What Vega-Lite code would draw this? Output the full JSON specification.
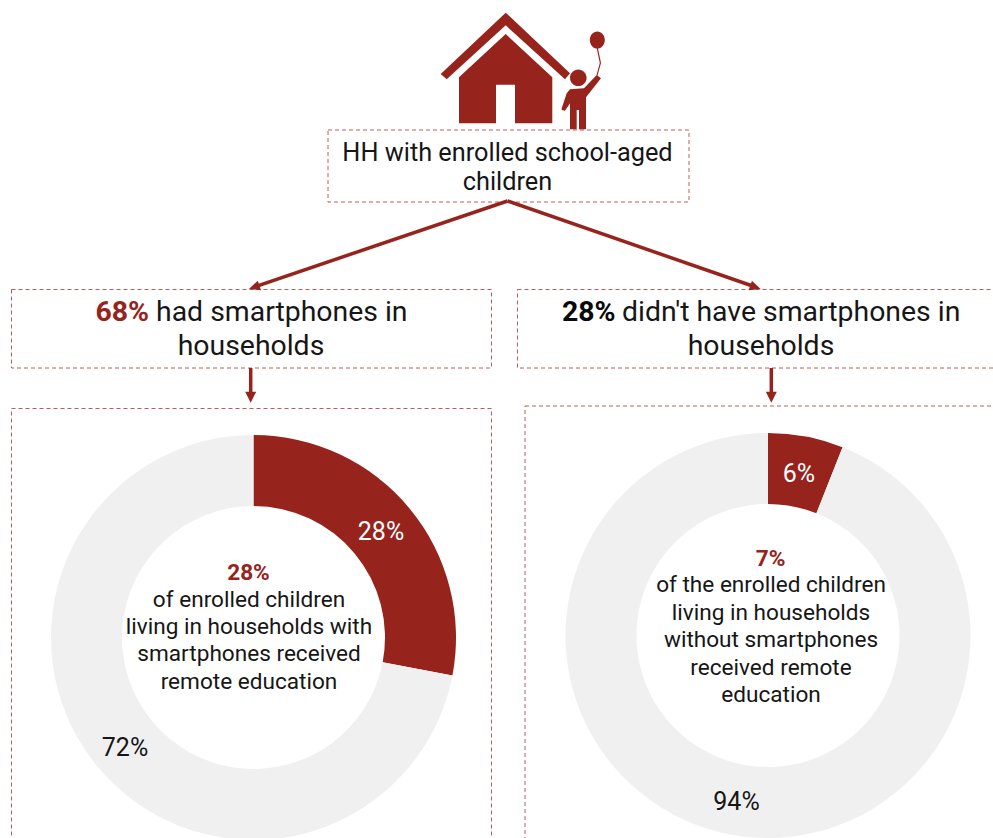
{
  "$schema": "https://vega.github.io/schema/vega-lite/v6.json",
  "width": 993,
  "height": 838,
  "padding": 0,
  "autosize": {"type": "none"},
  "background": "white",
  "config": {
    "view": {"stroke": null},
    "axis": {"disable": true},
    "legend": {"disable": true},
    "text": {"font": "Roboto", "color": "#161616", "baseline": "middle"}
  },
  "datasets": {
    "withPhone": [
      {"slice": "remote", "seq": 1, "share": 28, "label": "28%"},
      {"slice": "none", "seq": 2, "share": 72, "label": "72%"}
    ],
    "withoutPhone": [
      {"slice": "remote", "seq": 1, "share": 6, "label": "6%"},
      {"slice": "none", "seq": 2, "share": 94, "label": "94%"}
    ]
  },
  "layer": [
    {
      "data": {"name": "withPhone"},
      "mark": {"type": "arc", "radius": 202.5, "radius2": 131.5},
      "encoding": {
        "x": {"datum": 253.5, "type": "quantitative", "scale": {"domain": [0, 993], "nice": false, "zero": false}},
        "y": {"datum": 637.5, "type": "quantitative", "scale": {"domain": [838, 0], "nice": false, "zero": false}},
        "theta": {"field": "share", "type": "quantitative", "stack": true, "scale": {"domain": [0, 100]}},
        "order": {"field": "seq"},
        "color": {"field": "slice", "type": "nominal", "scale": {"domain": ["remote", "none"], "range": ["#96231c", "#f0f0f0"]}}
      }
    },
    {
      "data": {"name": "withoutPhone"},
      "mark": {"type": "arc", "radius": 202.5, "radius2": 131.5},
      "encoding": {
        "x": {"datum": 768, "type": "quantitative"},
        "y": {"datum": 635.5, "type": "quantitative"},
        "theta": {"field": "share", "type": "quantitative", "stack": true},
        "order": {"field": "seq"},
        "color": {"field": "slice", "type": "nominal"}
      }
    },
    {
      "data": {"values": [{"box": "households with school-aged children"}]},
      "mark": {"type": "rect", "fill": null, "stroke": "#b5403a", "strokeWidth": 1, "strokeDash": [4, 3], "opacity": 0.85},
      "encoding": {
        "x": {"datum": 328, "type": "quantitative"}, "x2": {"datum": 689},
        "y": {"datum": 130, "type": "quantitative"}, "y2": {"datum": 202}
      }
    },
    {
      "data": {"values": [{"box": "with smartphones"}]},
      "mark": {"type": "rect", "fill": null, "stroke": "#b5403a", "strokeWidth": 1, "strokeDash": [4, 3], "opacity": 0.85},
      "encoding": {
        "x": {"datum": 11.5, "type": "quantitative"}, "x2": {"datum": 491.5},
        "y": {"datum": 289.5, "type": "quantitative"}, "y2": {"datum": 368}
      }
    },
    {
      "data": {"values": [{"box": "without smartphones"}]},
      "mark": {"type": "rect", "fill": null, "stroke": "#b5403a", "strokeWidth": 1, "strokeDash": [4, 3], "opacity": 0.85},
      "encoding": {
        "x": {"datum": 517.5, "type": "quantitative"}, "x2": {"datum": 1010},
        "y": {"datum": 289.5, "type": "quantitative"}, "y2": {"datum": 368}
      }
    },
    {
      "data": {"values": [{"box": "remote education, with smartphones"}]},
      "mark": {"type": "rect", "fill": null, "stroke": "#b5403a", "strokeWidth": 1, "strokeDash": [4, 3], "opacity": 0.85},
      "encoding": {
        "x": {"datum": 11.5, "type": "quantitative"}, "x2": {"datum": 491.5},
        "y": {"datum": 408.5, "type": "quantitative"}, "y2": {"datum": 870}
      }
    },
    {
      "data": {"values": [{"box": "remote education, without smartphones"}]},
      "mark": {"type": "rect", "fill": null, "stroke": "#b5403a", "strokeWidth": 1, "strokeDash": [4, 3], "opacity": 0.85},
      "encoding": {
        "x": {"datum": 525, "type": "quantitative"}, "x2": {"datum": 1010},
        "y": {"datum": 406, "type": "quantitative"}, "y2": {"datum": 870}
      }
    },
    {
      "data": {"values": [{"link": "to with smartphones"}]},
      "mark": {"type": "rule", "stroke": "#96231c", "strokeWidth": 3.5},
      "encoding": {
        "x": {"datum": 507.5, "type": "quantitative"}, "x2": {"datum": 254},
        "y": {"datum": 201, "type": "quantitative"}, "y2": {"datum": 287}
      }
    },
    {
      "data": {"values": [{"link": "to without smartphones"}]},
      "mark": {"type": "rule", "stroke": "#96231c", "strokeWidth": 3.5},
      "encoding": {
        "x": {"datum": 507.5, "type": "quantitative"}, "x2": {"datum": 755.5},
        "y": {"datum": 201, "type": "quantitative"}, "y2": {"datum": 287}
      }
    },
    {
      "data": {"values": [{"link": "with smartphones to donut"}]},
      "mark": {"type": "rule", "stroke": "#96231c", "strokeWidth": 3.5},
      "encoding": {
        "x": {"datum": 250.7, "type": "quantitative"},
        "y": {"datum": 368, "type": "quantitative"}, "y2": {"datum": 396}
      }
    },
    {
      "data": {"values": [{"link": "without smartphones to donut"}]},
      "mark": {"type": "rule", "stroke": "#96231c", "strokeWidth": 3.5},
      "encoding": {
        "x": {"datum": 771.3, "type": "quantitative"},
        "y": {"datum": 368, "type": "quantitative"}, "y2": {"datum": 396}
      }
    },
    {
      "data": {"values": [{"head": "with smartphones"}]},
      "mark": {"type": "point", "shape": "M-5,-5.5L5,-5.5L0,5.5Z", "size": 4, "filled": true, "opacity": 1, "color": "#96231c", "angle": 71},
      "encoding": {"x": {"datum": 254.2, "type": "quantitative"}, "y": {"datum": 287.2, "type": "quantitative"}}
    },
    {
      "data": {"values": [{"head": "without smartphones"}]},
      "mark": {"type": "point", "shape": "M-5,-5.5L5,-5.5L0,5.5Z", "size": 4, "filled": true, "opacity": 1, "color": "#96231c", "angle": 289},
      "encoding": {"x": {"datum": 755.5, "type": "quantitative"}, "y": {"datum": 287.2, "type": "quantitative"}}
    },
    {
      "data": {"values": [{"head": "left donut"}]},
      "mark": {"type": "point", "shape": "M-5.5,-5.5L5.5,-5.5L0,5.5Z", "size": 4, "filled": true, "opacity": 1, "color": "#96231c"},
      "encoding": {"x": {"datum": 250.7, "type": "quantitative"}, "y": {"datum": 397.2, "type": "quantitative"}}
    },
    {
      "data": {"values": [{"head": "right donut"}]},
      "mark": {"type": "point", "shape": "M-5.5,-5.5L5.5,-5.5L0,5.5Z", "size": 4, "filled": true, "opacity": 1, "color": "#96231c"},
      "encoding": {"x": {"datum": 771.3, "type": "quantitative"}, "y": {"datum": 397.2, "type": "quantitative"}}
    },
    {
      "data": {"values": [{"icon": "house with a child holding a balloon"}]},
      "mark": {
        "type": "point",
        "size": 4,
        "filled": true,
        "opacity": 1,
        "color": "#96231c",
        "shape": "M505.7,12.7L570,73.3L565,79.3L505.7,25.3L446.7,79.3L440.7,74ZM459,77.3L505.7,34L552.3,77.3V123.3H515V84.7H496V123.3H459ZM570,77.7A8.3,8.3,0,1,1,586.6,77.7A8.3,8.3,0,1,1,570,77.7ZM561.7,108.3L566.7,93.3L570,89.3L584,88.3L596.7,75L601,78.3L586,97.3V129.3H579V110H576.7V129.3H570V103.3L565,110.7L561.7,110ZM589.8,40A7.5,8.6,0,1,1,604.8,40A7.5,8.6,0,1,1,589.8,40ZM596.8,48.5L598,48.5L601,63L597.4,76L596.4,75.6L599.8,63Z"
      },
      "encoding": {"x": {"datum": 0, "type": "quantitative"}, "y": {"datum": 0, "type": "quantitative"}}
    },
    {
      "data": {"values": [{"t": "HH with enrolled school-aged\nchildren"}]},
      "mark": {"type": "text", "fontSize": 25.3, "lineBreak": "\n", "lineHeight": 29, "align": "center"},
      "encoding": {"x": {"datum": 507.5, "type": "quantitative"}, "y": {"datum": 152.5, "type": "quantitative"}, "text": {"field": "t"}}
    },
    {
      "data": {"values": [{"t": "68%"}]},
      "mark": {"type": "text", "fontSize": 28.4, "fontWeight": "bold", "align": "right", "color": "#96231c"},
      "encoding": {"x": {"datum": 149, "type": "quantitative"}, "y": {"datum": 312, "type": "quantitative"}, "text": {"field": "t"}}
    },
    {
      "data": {"values": [{"t": "had smartphones in"}]},
      "mark": {"type": "text", "fontSize": 28.4, "align": "left"},
      "encoding": {"x": {"datum": 156, "type": "quantitative"}, "y": {"datum": 312, "type": "quantitative"}, "text": {"field": "t"}}
    },
    {
      "data": {"values": [{"t": "households"}]},
      "mark": {"type": "text", "fontSize": 28.4, "align": "center"},
      "encoding": {"x": {"datum": 251, "type": "quantitative"}, "y": {"datum": 346, "type": "quantitative"}, "text": {"field": "t"}}
    },
    {
      "data": {"values": [{"t": "28%"}]},
      "mark": {"type": "text", "fontSize": 28.4, "fontWeight": "bold", "align": "right", "color": "#0a0a0a"},
      "encoding": {"x": {"datum": 615.5, "type": "quantitative"}, "y": {"datum": 312, "type": "quantitative"}, "text": {"field": "t"}}
    },
    {
      "data": {"values": [{"t": "didn't have smartphones in"}]},
      "mark": {"type": "text", "fontSize": 28.4, "align": "left"},
      "encoding": {"x": {"datum": 622, "type": "quantitative"}, "y": {"datum": 312, "type": "quantitative"}, "text": {"field": "t"}}
    },
    {
      "data": {"values": [{"t": "households"}]},
      "mark": {"type": "text", "fontSize": 28.4, "align": "center"},
      "encoding": {"x": {"datum": 761, "type": "quantitative"}, "y": {"datum": 346, "type": "quantitative"}, "text": {"field": "t"}}
    },
    {
      "data": {"name": "withPhone"},
      "transform": [{"filter": "datum.slice === 'remote'"}],
      "mark": {"type": "text", "fontSize": 25, "align": "center", "color": "white"},
      "encoding": {"x": {"datum": 381, "type": "quantitative"}, "y": {"datum": 532, "type": "quantitative"}, "text": {"field": "label"}}
    },
    {
      "data": {"name": "withPhone"},
      "transform": [{"filter": "datum.slice === 'none'"}],
      "mark": {"type": "text", "fontSize": 25, "align": "center"},
      "encoding": {"x": {"datum": 125, "type": "quantitative"}, "y": {"datum": 748, "type": "quantitative"}, "text": {"field": "label"}}
    },
    {
      "data": {"name": "withoutPhone"},
      "transform": [{"filter": "datum.slice === 'remote'"}],
      "mark": {"type": "text", "fontSize": 25, "align": "center", "color": "white"},
      "encoding": {"x": {"datum": 799, "type": "quantitative"}, "y": {"datum": 474, "type": "quantitative"}, "text": {"field": "label"}}
    },
    {
      "data": {"name": "withoutPhone"},
      "transform": [{"filter": "datum.slice === 'none'"}],
      "mark": {"type": "text", "fontSize": 25, "align": "center"},
      "encoding": {"x": {"datum": 736.5, "type": "quantitative"}, "y": {"datum": 802, "type": "quantitative"}, "text": {"field": "label"}}
    },
    {
      "data": {"values": [{"t": "28%"}]},
      "mark": {"type": "text", "fontSize": 22.6, "fontWeight": "bold", "align": "center", "color": "#96231c"},
      "encoding": {"x": {"datum": 248.5, "type": "quantitative"}, "y": {"datum": 573, "type": "quantitative"}, "text": {"field": "t"}}
    },
    {
      "data": {"values": [{"t": "of enrolled children\nliving in households with\nsmartphones received\nremote education"}]},
      "mark": {"type": "text", "fontSize": 22.6, "lineBreak": "\n", "lineHeight": 27.4, "align": "center"},
      "encoding": {"x": {"datum": 249, "type": "quantitative"}, "y": {"datum": 599.5, "type": "quantitative"}, "text": {"field": "t"}}
    },
    {
      "data": {"values": [{"t": "7%"}]},
      "mark": {"type": "text", "fontSize": 22.6, "fontWeight": "bold", "align": "center", "color": "#96231c"},
      "encoding": {"x": {"datum": 770.5, "type": "quantitative"}, "y": {"datum": 559, "type": "quantitative"}, "text": {"field": "t"}}
    },
    {
      "data": {"values": [{"t": "of the enrolled children\nliving in households\nwithout smartphones\nreceived remote\neducation"}]},
      "mark": {"type": "text", "fontSize": 22.6, "lineBreak": "\n", "lineHeight": 27.6, "align": "center"},
      "encoding": {"x": {"datum": 771, "type": "quantitative"}, "y": {"datum": 585, "type": "quantitative"}, "text": {"field": "t"}}
    }
  ]
}
